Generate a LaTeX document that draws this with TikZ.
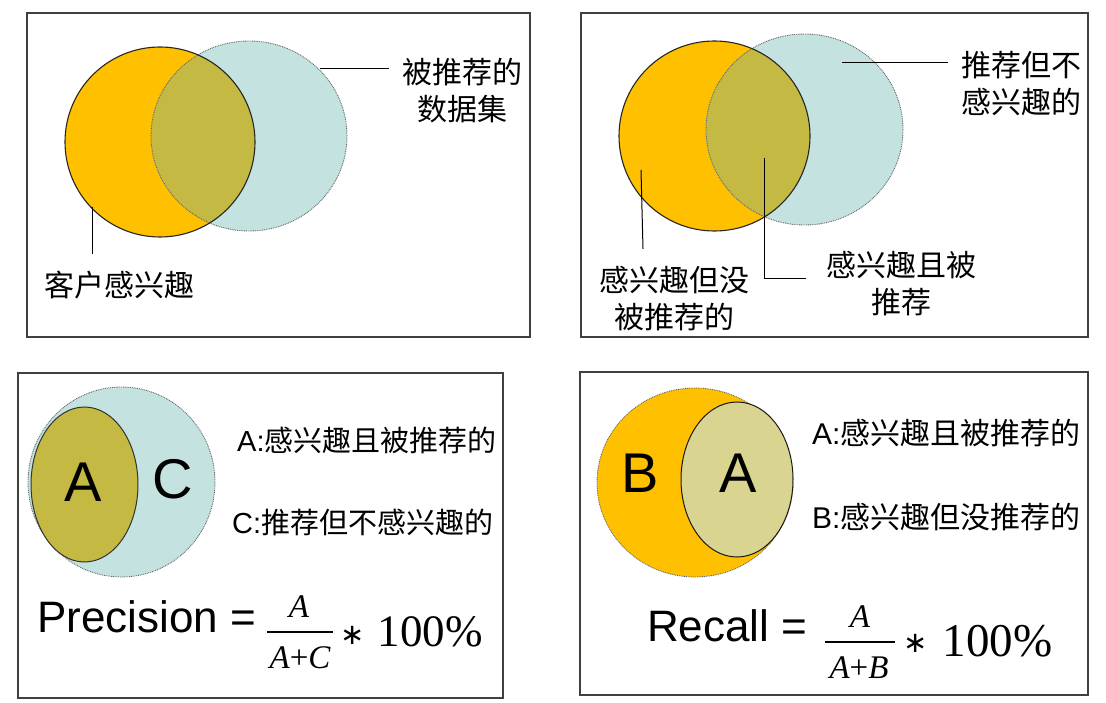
\documentclass[tikz,border=0pt]{standalone}
\usepackage{fontspec}
\setmainfont{Liberation Sans}
\newfontfamily\cjk{Noto Sans CJK SC}
\newfontfamily\mserif{Liberation Serif}
\newfontfamily\dejavu{DejaVu Sans}
\usetikzlibrary{calc}
\definecolor{vorange}{HTML}{FFC000}
\definecolor{vblue}{HTML}{C3E2E0}
\definecolor{volive}{HTML}{C4B943}
\definecolor{vpale}{HTML}{D9D490}
\begin{document}
\begin{tikzpicture}[x=1pt,y=-1pt,
  frame/.style={draw=black!75, line width=1.2pt},
  solidring/.style={draw=black!85, line width=1.1pt},
  dotring/.style={draw=black!60, line width=0.9pt, dash pattern=on 0.9pt off 0.9pt},
  cjklabel/.style={font=\cjk\fontsize{30}{37}\selectfont, align=center, inner sep=0pt},
  leader/.style={draw=black, line width=1pt},
  deflabel/.style={inner sep=0pt, anchor=west},
  bigletter/.style={font=\fontsize{56}{60}\selectfont, inner sep=0pt},
  formula/.style={font=\fontsize{44}{50}\selectfont, inner sep=0pt, anchor=base west},
  mathvar/.style={font=\mserif\itshape\fontsize{33}{36}\selectfont, inner sep=0pt},
  pct/.style={font=\mserif\fontsize{45}{50}\selectfont, inner sep=0pt},
  times/.style={font=\dejavu\fontsize{29}{34}\selectfont, inner sep=0pt},
  fracbar/.style={draw=black, line width=1.3pt},
]
\useasboundingbox (0,0) rectangle (1106,703);

% ---------------- Panel 1 ----------------
\draw[frame] (27,13) rectangle (530,337);
\fill[vorange] (160,142) ellipse [x radius=95pt, y radius=95pt];
\fill[vblue] (249,136) ellipse [x radius=98pt, y radius=95pt];
\begin{scope}
  \clip (160,142) ellipse [x radius=95pt, y radius=95pt];
  \fill[volive] (249,136) ellipse [x radius=98pt, y radius=95pt];
\end{scope}
\draw[dotring] (249,136) ellipse [x radius=98pt, y radius=95pt];
\draw[solidring] (160,142) ellipse [x radius=95pt, y radius=95pt];

\node[cjklabel] (p1rec) at (462,91) {被推荐的\\数据集};
\coordinate (p1recend) at (320,69);
\draw[leader] ($(p1rec.west |- p1recend)+(-13,0)$) -- (p1recend);

\node[cjklabel] (p1int) at (119,285) {客户感兴趣};
\coordinate (p1intend) at (92,207);
\draw[leader] ($(p1intend |- p1int.north)+(0,-17)$) -- (p1intend);

% ---------------- Panel 2 ----------------
\draw[frame] (581,13) rectangle (1088,337);
\fill[vorange] (714.5,136) ellipse [x radius=95.5pt, y radius=95pt];
\fill[vblue] (804.5,129.5) ellipse [x radius=98.5pt, y radius=95.5pt];
\begin{scope}
  \clip (714.5,136) ellipse [x radius=95.5pt, y radius=95pt];
  \fill[volive] (804.5,129.5) ellipse [x radius=98.5pt, y radius=95.5pt];
\end{scope}
\draw[dotring] (804.5,129.5) ellipse [x radius=98.5pt, y radius=95.5pt];
\draw[solidring] (714.5,136) ellipse [x radius=95.5pt, y radius=95pt];

\node[cjklabel] (p2notint) at (1021,83.5) {推荐但不\\感兴趣的};
\coordinate (p2notintend) at (842,63);
\draw[leader] ($(p2notint.west |- p2notintend)+(-13,0)$) -- (p2notintend);

\node[cjklabel] (p2miss) at (674,298.5) {感兴趣但没\\被推荐的};
\coordinate (p2missend) at (641,170);
\draw[leader] ($(p2miss.north)+(-31,-17)$) -- (p2missend);

\node[cjklabel] (p2hit) at (901,283.5) {感兴趣且被\\推荐};
\coordinate (p2hitend) at (764,158);
\draw[leader] ($(p2hit.west)+(-20,-4.5)$) -| (p2hitend);

% ---------------- Panel 3 ----------------
\draw[frame] (18,373) rectangle (503,698);
\fill[vblue] (121.5,482) ellipse [x radius=93.5pt, y radius=95pt];
\draw[dotring] (121.5,482) ellipse [x radius=93.5pt, y radius=95pt];
\fill[volive] (84.5,484.5) ellipse [x radius=53.5pt, y radius=77.5pt];
\draw[draw=black!80, line width=1pt] (84.5,484.5) ellipse [x radius=53.5pt, y radius=77.5pt];

\node[bigletter] (p3A) at (83,482) {A};
\node[bigletter] (p3C) at (173,479) {C};
\node[deflabel, font=\fontsize{29}{35}\selectfont] (p3defA) at (237,440) {A:{\cjk 感兴趣且被推荐的}};
\node[deflabel, font=\fontsize{29}{35}\selectfont] (p3defC) at (232,522) {C:{\cjk 推荐但不感兴趣的}};

\node[formula] (p3prec) at (37,632) {Precision =};
\node[mathvar] (p3num) at (299,607) {A};
\coordinate (p3barL) at (267,632);
\coordinate (p3barR) at (333,632);
\draw[fracbar] (p3barL) -- (p3barR);
\node[mathvar] (p3den) at (300,658) {A\upshape+\itshape C};
\node[times] (p3times) at (353,635) {∗};
\node[pct] (p3pct) at (430,632) {100\%};

% ---------------- Panel 4 ----------------
\draw[frame] (580,372) rectangle (1088,695);
\fill[vorange] (695,482.5) ellipse [x radius=98pt, y radius=94.5pt];
\draw[dotring] (695,482.5) ellipse [x radius=98pt, y radius=94.5pt];
\fill[vpale] (737,479.5) ellipse [x radius=56pt, y radius=77.5pt];
\draw[draw=black!90, line width=1pt] (737,479.5) ellipse [x radius=56pt, y radius=77.5pt];

\node[bigletter] (p4B) at (640,473) {B};
\node[bigletter] (p4A) at (738,473) {A};
\node[deflabel, font=\fontsize{30}{36}\selectfont] (p4defA) at (812,433) {A:{\cjk 感兴趣且被推荐的}};
\node[deflabel, font=\fontsize{30}{36}\selectfont] (p4defB) at (812,517) {B:{\cjk 感兴趣但没推荐的}};

\node[formula] (p4rec) at (647,641) {Recall =};
\node[mathvar] (p4num) at (860,617) {A};
\coordinate (p4barL) at (825,642);
\coordinate (p4barR) at (895,642);
\draw[fracbar] (p4barL) -- (p4barR);
\node[mathvar] (p4den) at (859,668) {A\upshape+\itshape B};
\node[times] (p4times) at (916,643) {∗};
\node[pct, font=\mserif\fontsize{47}{52}\selectfont] (p4pct) at (997.5,641) {100\%};
\end{tikzpicture}
\end{document}
